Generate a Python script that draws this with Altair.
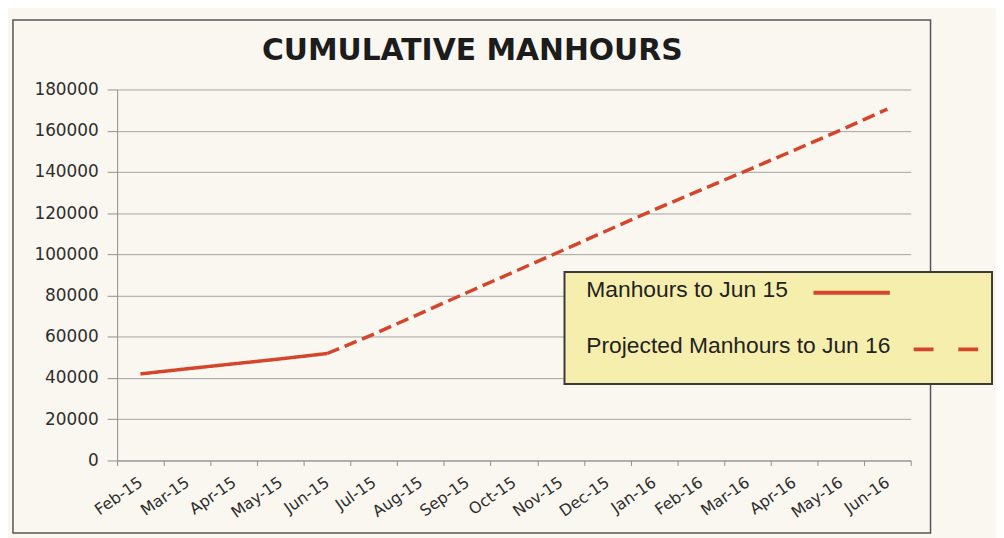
import altair as alt
import pandas as pd

months = ["Feb-15", "Mar-15", "Apr-15", "May-15", "Jun-15", "Jul-15", "Aug-15",
          "Sep-15", "Oct-15", "Nov-15", "Dec-15", "Jan-16", "Feb-16", "Mar-16",
          "Apr-16", "May-16", "Jun-16"]
actual_months = months[:5]
actual_values = [42000, 44500, 46900, 49300, 51900]
projected_months = months[4:]
projected_values = [51900, 61300, 71400, 81500, 91500, 101500, 111600, 121600,
                    131200, 140800, 150500, 160300, 170500]
y_ticks = [0, 20000, 40000, 60000, 80000, 100000, 120000, 140000, 160000, 180000]
series_names = ["Manhours to Jun 15", "Projected Manhours to Jun 16"]
title_text = "CUMULATIVE MANHOURS"

LINE_COLOR = "#d4452c"
TICK_FONT = "DejaVu Sans"
LABEL_COLOR = "#2e2e2e"
GRID_COLOR = "#a3a3a3"

df = pd.concat([
    pd.DataFrame({"month": actual_months, "value": actual_values, "series": series_names[0]}),
    pd.DataFrame({"month": projected_months, "value": projected_values, "series": series_names[1]}),
], ignore_index=True)

one = pd.DataFrame({"k": [0]})

x_enc = alt.X(
    "month:O", sort=months,
    scale=alt.Scale(type="band", domain=months, paddingInner=0, paddingOuter=0),
    axis=alt.Axis(title=None, labelAngle=325, labelAlign="right", labelBaseline="middle",
                  tickBand="extent", tickSize=5, labelPadding=15, grid=False,
                  domainColor="#8f8f8f", tickColor="#8f8f8f", labelFont=TICK_FONT,
                  labelFontSize=16, labelColor=LABEL_COLOR, labelOverlap=False),
)
y_enc = alt.Y(
    "value:Q",
    scale=alt.Scale(domain=[0, 180000], nice=False),
    axis=alt.Axis(title=None, values=y_ticks, format="d", gridColor=GRID_COLOR, gridWidth=1,
                  tickSize=10, labelPadding=9, domainColor="#8f8f8f", tickColor="#8f8f8f",
                  labelFont=TICK_FONT, labelFontSize=17, labelColor=LABEL_COLOR),
)

border = alt.Chart(one).mark_rect(fillOpacity=0, stroke="#555555", strokeWidth=1.5).encode(
    x=alt.value(-105), x2=alt.value(820), y=alt.value(-70), y2=alt.value(447)
)

lines = alt.Chart(df).mark_line(color=LINE_COLOR, strokeWidth=3.5).encode(
    x=x_enc, y=y_enc,
    strokeDash=alt.StrokeDash("series:N",
                              scale=alt.Scale(domain=series_names, range=[[1, 0], [13, 6]]),
                              legend=None),
    detail="series:N",
)

title = alt.Chart(one).mark_text(
    text=title_text, font="DejaVu Sans", fontSize=30, fontWeight="bold",
    color="#1c1c1c", align="center", baseline="alphabetic"
).encode(x=alt.value(358), y=alt.value(-30))

legend_box = alt.Chart(one).mark_rect(fill="#f6eeac", stroke="#3a3a3a", strokeWidth=2).encode(
    x=alt.value(451), x2=alt.value(882), y=alt.value(184), y2=alt.value(297)
)
leg_text1 = alt.Chart(one).mark_text(
    text=series_names[0], font="Liberation Sans", fontSize=23, color="#222222",
    align="left", baseline="alphabetic"
).encode(x=alt.value(473), y=alt.value(209))
leg_text2 = alt.Chart(one).mark_text(
    text=series_names[1], font="Liberation Sans", fontSize=23, color="#222222",
    align="left", baseline="alphabetic"
).encode(x=alt.value(473), y=alt.value(266))
leg_line1 = alt.Chart(one).mark_rule(color=LINE_COLOR, strokeWidth=4).encode(
    x=alt.value(702), x2=alt.value(779), y=alt.value(205)
)
leg_line2 = alt.Chart(one).mark_rule(color=LINE_COLOR, strokeWidth=4, strokeDash=[20, 25]).encode(
    x=alt.value(803), x2=alt.value(870), y=alt.value(262)
)

chart = alt.layer(
    border, lines, title, legend_box, leg_text1, leg_text2, leg_line1, leg_line2
).properties(
    width=800, height=374,
    autosize=alt.AutoSizeParams(type="none"),
    padding={"left": 110, "top": 80, "right": 86, "bottom": 76},
    background="#f9f7f0",
).configure_view(stroke=None)

chart.save("out.html", embed_options={"renderer": "svg", "actions": False})
